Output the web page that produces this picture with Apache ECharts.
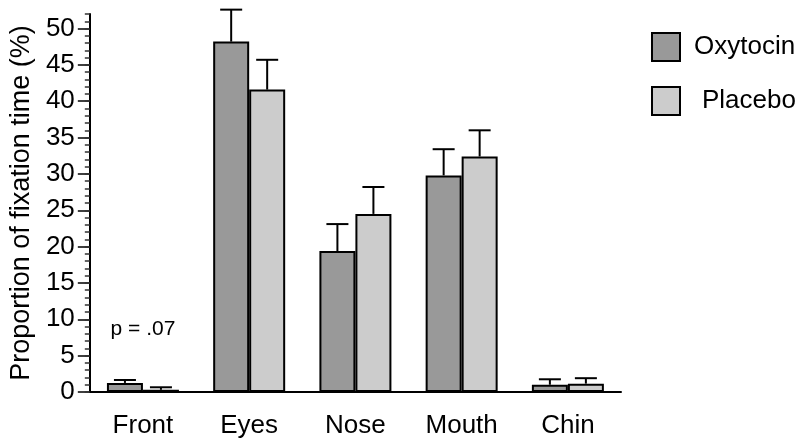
<!DOCTYPE html>
<html>
<head>
<meta charset="utf-8">
<script src="https://cdn.jsdelivr.net/npm/echarts@6/dist/echarts.min.js"></script>
<style>html,body{margin:0;padding:0;background:#fff}#c{width:796px;height:439px}</style>
</head>
<body>
<div id="c"></div>
<script>
const categories = ['Front', 'Eyes', 'Nose', 'Mouth', 'Chin'];
const oxytocin = [1.25, 48.2, 19.4, 29.8, 1.0];
const oxytocinErr = [0.4, 4.4, 3.7, 3.6, 0.75];
const placebo = [0.3, 41.6, 24.5, 32.4, 1.15];
const placeboErr = [0.35, 4.1, 3.7, 3.6, 0.75];
const yTicks = [0, 5, 10, 15, 20, 25, 30, 35, 40, 45, 50];
const annotation = { category: 'Front', value: 8.7, text: 'p = .07' };

const FONT = 'Liberation Sans, Arial, sans-serif';
const BAR_W = 36;
const chart = echarts.init(document.getElementById('c'), null, { renderer: 'canvas' });

function errSeries(name, vals, errs, offset) {
  return {
    type: 'custom',
    name: name + ' err',
    xAxisIndex: 0, yAxisIndex: 0,
    z: 5,
    data: vals.map((v, i) => [i, v, v + errs[i]]),
    renderItem: function (params, api) {
      const base = api.coord([api.value(0), api.value(1)]);
      const top = api.coord([api.value(0), api.value(2)]);
      const x = base[0] + offset;
      const cap = 11;
      return {
        type: 'group',
        children: [
          { type: 'line', shape: { x1: x, y1: base[1], x2: x, y2: top[1] }, style: { stroke: '#000', lineWidth: 2 } },
          { type: 'line', shape: { x1: x - cap, y1: top[1], x2: x + cap, y2: top[1] }, style: { stroke: '#000', lineWidth: 2 } }
        ]
      };
    },
    silent: true
  };
}

const option = {
  backgroundColor: '#fff',
  animation: false,
  textStyle: { fontFamily: FONT },
  grid: { left: 88, right: 175, top: 14, bottom: 45.5 },
  legend: {
    orient: 'vertical',
    left: 646, top: 27,
    itemWidth: 28, itemHeight: 28, itemGap: 24,
    icon: 'rect',
    itemStyle: { borderColor: '#000', borderWidth: 2 },
    textStyle: { fontSize: 26, color: '#000', fontFamily: FONT, padding: [0, 0, 0, 9] },
    data: [
      { name: 'Oxytocin' },
      { name: 'Placebo', textStyle: { padding: [0, 0, 0, 17] } }
    ]
  },
  xAxis: {
    type: 'category',
    data: categories,
    boundaryGap: true,
    axisLine: { lineStyle: { color: '#000', width: 2 } },
    axisTick: { alignWithLabel: true, length: 12, lineStyle: { color: '#000', width: 1 } },
    axisLabel: { color: '#000', fontSize: 26, margin: 21, fontFamily: FONT },
    splitLine: { show: false }
  },
  yAxis: [
    {
      type: 'value',
      min: 0, max: 52, interval: 5,
      name: 'Proportion of fixation time (%)',
      nameLocation: 'middle',
      nameGap: 52,
      nameRotate: 90,
      nameTextStyle: { color: '#000', fontSize: 27, fontFamily: FONT },
      axisLine: { show: true, lineStyle: { color: '#000', width: 2 } },
      axisTick: { show: true, length: 12, lineStyle: { color: '#000', width: 1.5 } },
      axisLabel: {
        color: '#000', fontSize: 26, margin: 15, fontFamily: FONT,
        showMaxLabel: false,
        formatter: v => yTicks.indexOf(v) >= 0 ? String(v) : ''
      },
      splitLine: { show: false }
    },
    {
      type: 'value',
      position: 'left',
      min: 0, max: 52, interval: 1,
      axisLine: { show: false },
      axisTick: { show: true, length: 5, lineStyle: { color: '#333', width: 1.5 } },
      axisLabel: { show: false },
      splitLine: { show: false }
    }
  ],
  series: [
    {
      name: 'Oxytocin', type: 'bar', data: oxytocin,
      barWidth: BAR_W, barGap: '0%',
      itemStyle: { color: '#999999', borderColor: '#000', borderWidth: 2 },
      z: 3
    },
    {
      name: 'Placebo', type: 'bar', data: placebo,
      barWidth: BAR_W, barGap: '0%',
      itemStyle: { color: '#cccccc', borderColor: '#000', borderWidth: 2 },
      z: 3
    },
    errSeries('Oxytocin', oxytocin, oxytocinErr, -BAR_W / 2),
    errSeries('Placebo', placebo, placeboErr, BAR_W / 2),
    {
      type: 'scatter',
      name: 'annotation',
      symbolSize: 0,
      itemStyle: { opacity: 1 },
      data: [[annotation.category, annotation.value]],
      label: {
        show: true, position: 'inside', formatter: annotation.text,
        color: '#000', fontSize: 21, fontFamily: FONT, opacity: 1
      },
      silent: true
    }
  ]
};
chart.setOption(option);
</script>
</body>
</html>
